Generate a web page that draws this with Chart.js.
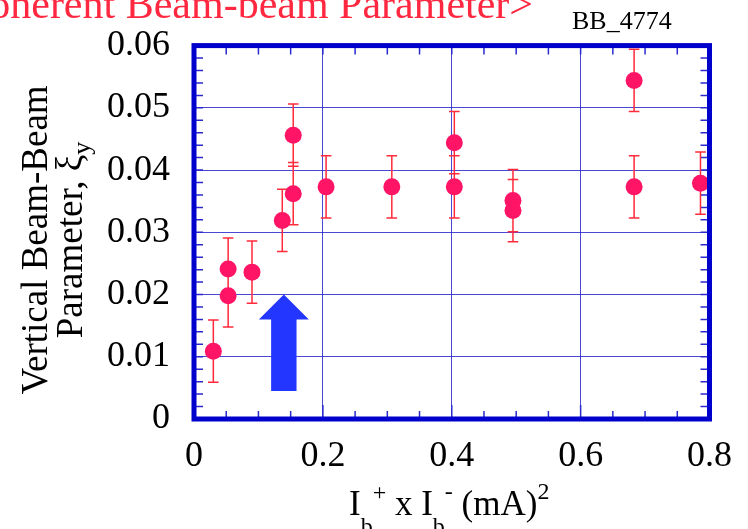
<!DOCTYPE html>
<html>
<head>
<meta charset="utf-8">
<script src="https://cdn.jsdelivr.net/npm/chart.js@4.4.1/dist/chart.umd.min.js"></script>
<style>
  html, body { margin: 0; padding: 0; background: #ffffff; }
  #wrap { width: 748px; height: 529px; }
</style>
</head>
<body>
<div id="wrap"><canvas id="c" width="748" height="529"></canvas></div>
<script>
// ---- data ----
const xVals = [0.030, 0.053, 0.053, 0.090, 0.137, 0.154, 0.154, 0.205, 0.307, 0.404, 0.404, 0.495, 0.495, 0.683, 0.683, 0.786];
const yVals = [0.0109, 0.0241, 0.0198, 0.0236, 0.0319, 0.0456, 0.0362, 0.0373, 0.0373, 0.0444, 0.0373, 0.0351, 0.0335, 0.0544, 0.0373, 0.0379];
const yErrs = [0.005, 0.005, 0.005, 0.005, 0.005, 0.005, 0.005, 0.005, 0.005, 0.005, 0.005, 0.005, 0.005, 0.005, 0.005, 0.005];
const xTickLabels = ['0', '0.2', '0.4', '0.6', '0.8'];
const yTickLabels = ['0', '0.01', '0.02', '0.03', '0.04', '0.05', '0.06'];
const titleText = '<Coherent Beam-beam Parameter>';
const tagText = 'BB_4774';
// arrow annotation (data coordinates)
const arrowX = 0.1394, arrowTip = 0.0200, arrowHeadBase = 0.0160, arrowBottom = 0.0045;

const SERIF = '"Liberation Serif", "Times New Roman", serif';
const BLUE = '#0000cc';

const decor = {
  id: 'decor',
  beforeDatasetsDraw(chart) {
    const ctx = chart.ctx, xs = chart.scales.x, ys = chart.scales.y, a = chart.chartArea;
    ctx.save();
    // minor ticks
    ctx.strokeStyle = '#2a2ad0';
    ctx.lineWidth = 1.5;
    ctx.beginPath();
    for (let k = 0; k <= 30; k++) {
      const py = ys.getPixelForValue(k * 0.002);
      ctx.moveTo(a.left, py); ctx.lineTo(a.left + 9, py);
      ctx.moveTo(a.right, py); ctx.lineTo(a.right - 9, py);
    }
    for (let k = 0; k <= 16; k++) {
      const px = xs.getPixelForValue(k * 0.05);
      const len = (k % 4 === 0) ? 14 : 8;
      ctx.moveTo(px, a.bottom); ctx.lineTo(px, a.bottom - len);
      ctx.moveTo(px, a.top); ctx.lineTo(px, a.top + 9);
    }
    ctx.stroke();

    // arrow
    const ax = xs.getPixelForValue(arrowX);
    const yt = ys.getPixelForValue(arrowTip);
    const yh = ys.getPixelForValue(arrowHeadBase);
    const yb = ys.getPixelForValue(arrowBottom);
    ctx.fillStyle = '#2236ff';
    ctx.beginPath();
    ctx.moveTo(ax, yt);
    ctx.lineTo(ax + 25, yh);
    ctx.lineTo(ax + 12.7, yh);
    ctx.lineTo(ax + 12.7, yb);
    ctx.lineTo(ax - 12.7, yb);
    ctx.lineTo(ax - 12.7, yh);
    ctx.lineTo(ax - 25, yh);
    ctx.closePath();
    ctx.fill();

    // error bars
    ctx.strokeStyle = '#ff2a3a';
    ctx.lineWidth = 1.5;
    ctx.beginPath();
    for (let i = 0; i < xVals.length; i++) {
      const px = xs.getPixelForValue(xVals[i]);
      const p1 = ys.getPixelForValue(yVals[i] + yErrs[i]);
      const p2 = ys.getPixelForValue(yVals[i] - yErrs[i]);
      ctx.moveTo(px, p1); ctx.lineTo(px, p2);
      ctx.moveTo(px - 5.3, p1); ctx.lineTo(px + 5.3, p1);
      ctx.moveTo(px - 5.3, p2); ctx.lineTo(px + 5.3, p2);
    }
    ctx.stroke();
    ctx.restore();
  },
  afterDraw(chart) {
    const ctx = chart.ctx, a = chart.chartArea;
    ctx.save();
    // frame
    ctx.strokeStyle = BLUE;
    ctx.lineWidth = 5;
    ctx.strokeRect(a.left, a.top, a.right - a.left, a.bottom - a.top);

    // title (partly cut at top-left)
    ctx.fillStyle = '#ff2840';
    ctx.font = '42px ' + SERIF;
    ctx.textAlign = 'right';
    ctx.textBaseline = 'alphabetic';
    ctx.fillText(titleText, 533, 18);

    // tag
    ctx.fillStyle = '#000';
    ctx.font = '26px ' + SERIF;
    ctx.textAlign = 'left';
    ctx.fillText(tagText, 572, 29);

    // x-axis title with sub/superscripts
    const big = '35px ' + SERIF, small = '24px ' + SERIF;
    const parts = [
      ['I', big, 0], ['b', small, 19], ['+', small, -15],
      [' x I', big, 0], ['b', small, 19], ['-', small, -16],
      [' (mA)', big, 0], ['2', small, -16]
    ];
    let x = 349;
    const base = 515;
    for (const [t, f, dy] of parts) {
      ctx.font = f;
      ctx.fillText(t, x, base + dy);
      x += ctx.measureText(t).width;
    }

    // y-axis title (two rotated lines)
    const cy = 240;
    ctx.save();
    ctx.translate(47, cy);
    ctx.rotate(-Math.PI / 2);
    ctx.font = '37px ' + SERIF;
    ctx.textAlign = 'center';
    ctx.fillText('Vertical Beam-Beam', 0, 0);
    ctx.restore();

    ctx.save();
    ctx.translate(82, cy);
    ctx.rotate(-Math.PI / 2);
    ctx.textAlign = 'left';
    const l2 = [['Parameter, ξ', '37px ' + SERIF, 0], ['y', '26px ' + SERIF, 8]];
    let w = 0;
    for (const [t, f] of l2) { ctx.font = f; w += ctx.measureText(t).width; }
    let lx = -w / 2;
    for (const [t, f, dy] of l2) {
      ctx.font = f;
      ctx.fillText(t, lx, dy);
      lx += ctx.measureText(t).width;
    }
    ctx.restore();
    ctx.restore();
  }
};

const points = xVals.map((x, i) => ({ x: x, y: yVals[i] }));

new Chart(document.getElementById('c'), {
  type: 'scatter',
  data: {
    datasets: [{
      data: points,
      backgroundColor: '#ff1466',
      borderWidth: 0,
      pointRadius: 8.5,
      pointHoverRadius: 8.5
    }]
  },
  options: {
    responsive: false,
    devicePixelRatio: 1,
    animation: false,
    events: [],
    layout: { padding: { left: 0, right: 28, top: 42, bottom: 0 } },
    plugins: { legend: { display: false }, tooltip: { enabled: false }, title: { display: false } },
    scales: {
      x: {
        type: 'linear', min: 0, max: 0.8,
        afterFit(s) { s.height = 110; },
        ticks: {
          stepSize: 0.2, padding: 16, color: '#000',
          font: { family: SERIF, size: 36 },
          callback: (v, i) => xTickLabels[i]
        },
        grid: { color: 'rgba(40,40,205,0.85)', lineWidth: 1, drawTicks: false },
        border: { display: false }
      },
      y: {
        type: 'linear', min: 0, max: 0.06,
        afterFit(s) { s.width = 194; },
        ticks: {
          stepSize: 0.01, padding: 24, color: '#000',
          font: { family: SERIF, size: 36 },
          callback: (v, i) => yTickLabels[i]
        },
        grid: { color: 'rgba(40,40,205,0.85)', lineWidth: 1, drawTicks: false },
        border: { display: false }
      }
    }
  },
  plugins: [decor]
});
</script>
</body>
</html>
